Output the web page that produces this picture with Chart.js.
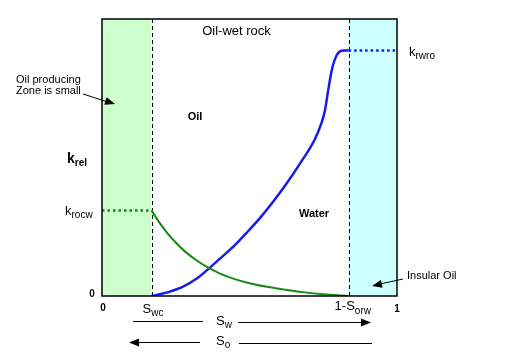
<!DOCTYPE html>
<html><head><meta charset="utf-8">
<script src="https://cdn.jsdelivr.net/npm/chart.js@4"></script>
<style>html,body{margin:0;padding:0;background:#fff}#wrap{width:526px;height:357px}</style>
</head><body><div id="wrap"><canvas id="c" width="526" height="357"></canvas></div>
<script>
// ---- data ----
const swc = 0.168;          // connate water saturation
const oneMinusSorw = 0.836; // 1 - residual oil saturation
const krocw = 0.309;        // oil rel perm endpoint
const krwro = 0.886;        // water rel perm endpoint
const waterSw = [0.168,0.186,0.230,0.275,0.320,0.360,0.400,0.445,0.490,0.536,0.580,0.625,0.671,0.722,0.745,0.756,0.767,0.779,0.796,0.818,0.836];
const waterKr = [0,0.004,0.016,0.034,0.062,0.097,0.135,0.178,0.228,0.282,0.340,0.405,0.478,0.567,0.628,0.671,0.744,0.816,0.870,0.886,0.886];
const oilSw = [0.168,0.190,0.220,0.250,0.280,0.320,0.360,0.400,0.450,0.500,0.560,0.620,0.680,0.750,0.834];
const oilKr = [0.309,0.272,0.229,0.193,0.162,0.129,0.102,0.081,0.061,0.046,0.033,0.023,0.014,0.006,0.0];
const xTickLabels = ['0','1'];
const yTickLabels = ['0'];

const pts = (xs, ys) => xs.map((x,i)=>({x, y: ys[i]}));
const FONT = '"Liberation Sans", Arial, sans-serif';

const deco = {
  id: 'deco',
  beforeDatasetsDraw(chart) {
    const {ctx, chartArea: a, scales: {x}} = chart;
    const xs = x.getPixelForValue(swc), xo = x.getPixelForValue(oneMinusSorw);
    ctx.save();
    ctx.fillStyle = '#ccffcc';
    ctx.fillRect(a.left, a.top, xs - a.left, a.bottom - a.top);
    ctx.fillStyle = '#ccffff';
    ctx.fillRect(xo, a.top, a.right - xo, a.bottom - a.top);
    ctx.strokeStyle = '#000'; ctx.lineWidth = 1; ctx.setLineDash([4,3]);
    [xs, xo].forEach(px => { ctx.beginPath(); ctx.moveTo(Math.round(px)+0.5, a.top); ctx.lineTo(Math.round(px)+0.5, a.bottom); ctx.stroke(); });
    ctx.restore();
  },
  afterDraw(chart) {
    const {ctx, chartArea: a, scales: {x}} = chart;
    ctx.save();
    ctx.strokeStyle = '#000'; ctx.lineWidth = 1.5; ctx.setLineDash([]);
    ctx.strokeRect(a.left, a.top, a.right - a.left, a.bottom - a.top);
    ctx.fillStyle = '#000'; ctx.textBaseline = 'alphabetic';
    const txt = (s, px, py, f, align) => { ctx.font = f; ctx.textAlign = align || 'left'; ctx.fillText(s, px, py); };
    const sub = (main, s, px, py, mf, sf, dy) => {
      ctx.font = mf; ctx.textAlign = 'left'; ctx.fillText(main, px, py);
      const w = ctx.measureText(main).width;
      ctx.font = sf; ctx.fillText(s, px + w, py + dy);
    };
    txt('Oil-wet rock', 236.5, 35, '13px ' + FONT, 'center');
    txt('Oil', 195, 120, 'bold 11px ' + FONT, 'center');
    txt('Water', 314, 217, 'bold 11px ' + FONT, 'center');
    sub('k', 'rel', 67, 163, 'bold 14px ' + FONT, 'bold 10px ' + FONT, 3);
    sub('k', 'rocw', 65, 215, '13px ' + FONT, '10px ' + FONT, 3);
    sub('k', 'rwro', 409, 56, '13px ' + FONT, '10px ' + FONT, 3);
    txt('Oil producing', 16, 83, '11px ' + FONT);
    txt('Zone is small', 16, 94, '11px ' + FONT);
    txt('Insular Oil', 407, 279, '11px ' + FONT);
    // ticks
    txt(yTickLabels[0], 92, 297, 'bold 10px ' + FONT, 'center');
    txt(xTickLabels[0], x.getPixelForValue(0) + 1, 311, 'bold 10px ' + FONT, 'center');
    txt(xTickLabels[1], x.getPixelForValue(1), 312, 'bold 10px ' + FONT, 'center');
    sub('S', 'wc', x.getPixelForValue(swc) - 9, 313, '13px ' + FONT, '10px ' + FONT, 3);
    sub('1-S', 'orw', x.getPixelForValue(oneMinusSorw) - 14, 310, '13px ' + FONT, '10px ' + FONT, 4);
    sub('S', 'w', 216, 325, '13px ' + FONT, '10px ' + FONT, 3);
    sub('S', 'o', 216, 345, '13px ' + FONT, '10px ' + FONT, 3);
    // arrows
    const line = (x1,y1,x2,y2) => { ctx.beginPath(); ctx.moveTo(x1,y1); ctx.lineTo(x2,y2); ctx.stroke(); };
    const head = (x1,y1,x2,y2) => {
      const ang = Math.atan2(y2-y1, x2-x1), L = 10, W = 4;
      ctx.beginPath(); ctx.moveTo(x2,y2);
      ctx.lineTo(x2 - L*Math.cos(ang) + W*Math.sin(ang), y2 - L*Math.sin(ang) - W*Math.cos(ang));
      ctx.lineTo(x2 - L*Math.cos(ang) - W*Math.sin(ang), y2 - L*Math.sin(ang) + W*Math.cos(ang));
      ctx.closePath(); ctx.fill();
    };
    ctx.lineWidth = 1;
    line(133, 321.5, 203, 321.5); line(238, 322.5, 362, 322.5); head(238, 322.5, 371, 322.5);
    line(138, 342.5, 200, 342.5); head(200, 342.5, 129, 342.5); line(239, 343.5, 372, 343.5);
    line(83, 94, 108, 102); head(83, 94, 115, 104);
    line(403, 279, 380, 284); head(403, 279, 372, 286);
    ctx.restore();
  }
};

new Chart(document.getElementById('c'), {
  type: 'scatter',
  data: {
    datasets: [
      { data: [{x:0,y:krocw},{x:swc,y:krocw}], showLine: true, borderColor: '#138a13', borderWidth: 2.5, borderDash: [2.5,3], pointRadius: 0 },
      { data: pts(oilSw, oilKr), showLine: true, borderColor: '#138a13', borderWidth: 2, cubicInterpolationMode: 'monotone', pointRadius: 0 },
      { data: pts(waterSw, waterKr), showLine: true, borderColor: '#1a1aee', borderWidth: 2.5, cubicInterpolationMode: 'monotone', pointRadius: 0 },
      { data: [{x:oneMinusSorw,y:krwro},{x:1,y:krwro}], showLine: true, borderColor: '#1a1aee', borderWidth: 2.5, borderDash: [2.5,3], pointRadius: 0 }
    ]
  },
  options: {
    responsive: false, animation: false, devicePixelRatio: 1,
    layout: { padding: { left: 102, top: 19, right: 129, bottom: 61 } },
    plugins: { legend: { display: false }, tooltip: { enabled: false } },
    scales: {
      x: { type: 'linear', min: 0, max: 1, display: false },
      y: { type: 'linear', min: 0, max: 1, display: false }
    }
  },
  plugins: [deco]
});
</script></body></html>
